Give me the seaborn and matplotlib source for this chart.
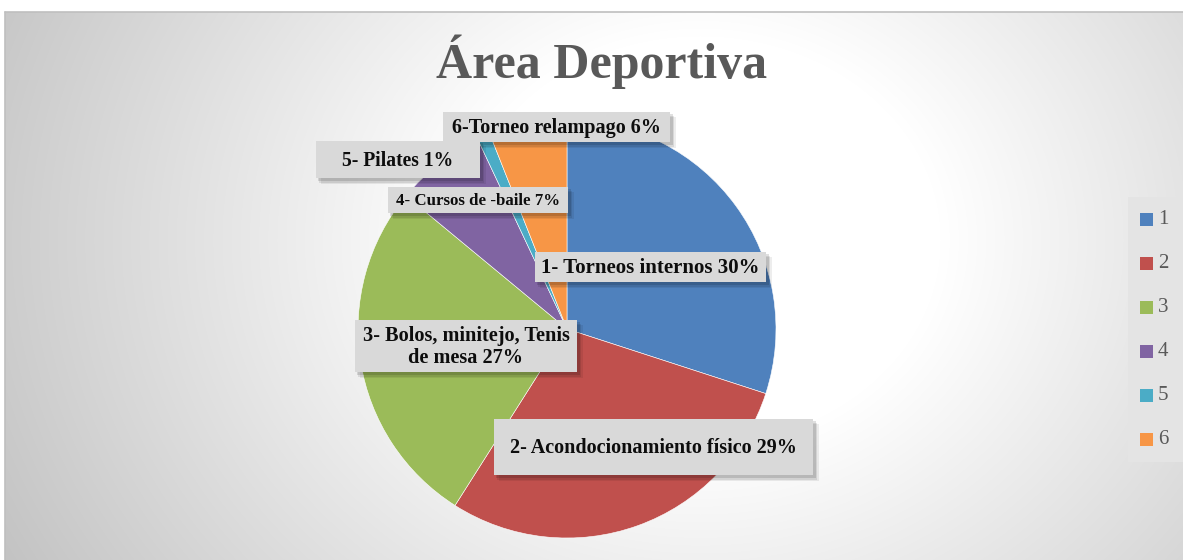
import numpy as np
import matplotlib
matplotlib.use("Agg")
import matplotlib.pyplot as plt
from matplotlib.patches import Rectangle
import seaborn as sns

categories = ["1", "2", "3", "4", "5", "6"]
values = [30, 29, 27, 7, 1, 6]
labels = ["1- Torneos internos 30%",
          "2- Acondocionamiento físico 29%",
          "3- Bolos, minitejo, Tenis\nde mesa 27%",
          "4- Cursos de -baile 7%",
          "5- Pilates 1%",
          "6-Torneo relampago 6%"]
colors = ["#4F81BD", "#C0504D", "#9BBB59", "#8064A2", "#4BACC6", "#F79646"]
title = "Área Deportiva"

sns.set_theme(style="white")
plt.rcParams['font.family'] = ['Liberation Serif', 'DejaVu Serif']

W, H = 1183, 560
fig = plt.figure(figsize=(W / 100, H / 100), dpi=100)
renderer = fig.canvas.get_renderer()

# background gradient
bg = fig.add_axes([0, 0, 1, 1], zorder=0)
yy, xx = np.mgrid[0:H, 0:W]
d = np.sqrt(((xx - 700) / 1.0) ** 2 + ((yy - 240) / 0.85) ** 2)
t = np.clip((d - 240) / 560, 0, 1)
g = 1.0 - 0.24 * t
img = np.dstack([g, g, g])
img[:12, :, :] = 1.0
img[:, :5, :] = 1.0
bg.imshow(img, extent=[0, W, H, 0], aspect='auto', interpolation='bilinear')
bg.plot([5, W], [12, 12], color="#BFBFBF", lw=1.2)
bg.plot([5, 5], [12, H], color="#BFBFBF", lw=1.2)
bg.set_xlim(0, W)
bg.set_ylim(H, 0)
bg.axis('off')

# pie
cx, cy, r = 567, 329, 209
ax = fig.add_axes([(cx - r) / W, (H - cy - r) / H, 2 * r / W, 2 * r / H], zorder=1)
ax.pie(values, colors=colors, startangle=90, counterclock=False, radius=1,
       wedgeprops=dict(linewidth=0.4, edgecolor="white"))
ax.set_xlim(-1, 1)
ax.set_ylim(-1, 1)
ax.set_aspect('auto')
ax.axis('off')

# overlay axes in pixel coordinates
ov = fig.add_axes([0, 0, 1, 1], zorder=3)
ov.set_xlim(0, W)
ov.set_ylim(H, 0)
ov.axis('off')


def fitted_size(s, target_w, size0=12, **kw):
    tx = ov.text(0, 0, s, fontsize=size0, **kw)
    w = tx.get_window_extent(renderer=renderer).width
    tx.remove()
    return size0 * target_w / w


ov.text(602, 62, title, ha='center', va='center',
        fontsize=fitted_size(title, 331, 30, fontweight='bold'),
        fontweight='bold', color="#595959", zorder=5)

# data label boxes: (x0, y0, x1, y1, text width)
boxes = [(535, 252, 766, 282, 218),
         (494, 419, 813, 475, 286),
         (355, 320, 577, 372, 206),
         (388, 187, 568, 213, 163),
         (316, 141, 480, 178, 111),
         (443, 112, 670, 142, 208)]
for lab, (x0, y0, x1, y1, tw) in zip(labels, boxes):
    for k, a in zip([6, 4.5, 3], [0.07, 0.09, 0.12]):
        ov.add_patch(Rectangle((x0 + k - 1, y0 + k - 1), x1 - x0 + 1, y1 - y0 + 1,
                               fc="black", ec="none", alpha=a, zorder=4))
    ov.add_patch(Rectangle((x0, y0), x1 - x0, y1 - y0, fc="#D9D9D9", ec="none", zorder=5))
    fs = fitted_size(lab.split("\n")[0], tw, 12, fontweight='bold')
    ov.text((x0 + x1) / 2, (y0 + y1) / 2 + 1, lab, ha='center', va='center',
            fontsize=fs, fontweight='bold', color="#0D0D0D", zorder=6,
            linespacing=1.15, multialignment='center')

# legend
ov.add_patch(Rectangle((1128, 197), 60, 265, fc="#E4E4E4", ec="none", zorder=4))
for i, (c, lab) in enumerate(zip(colors, categories)):
    y = 219 + i * 44
    ov.add_patch(Rectangle((1140, y - 6.5), 13, 13, fc=c, ec="none", zorder=5))
    ov.text(1158, y + 1, lab, ha='left', va='center', fontsize=15,
            color="#595959", zorder=5)

fig.savefig("out.png", dpi=100)
